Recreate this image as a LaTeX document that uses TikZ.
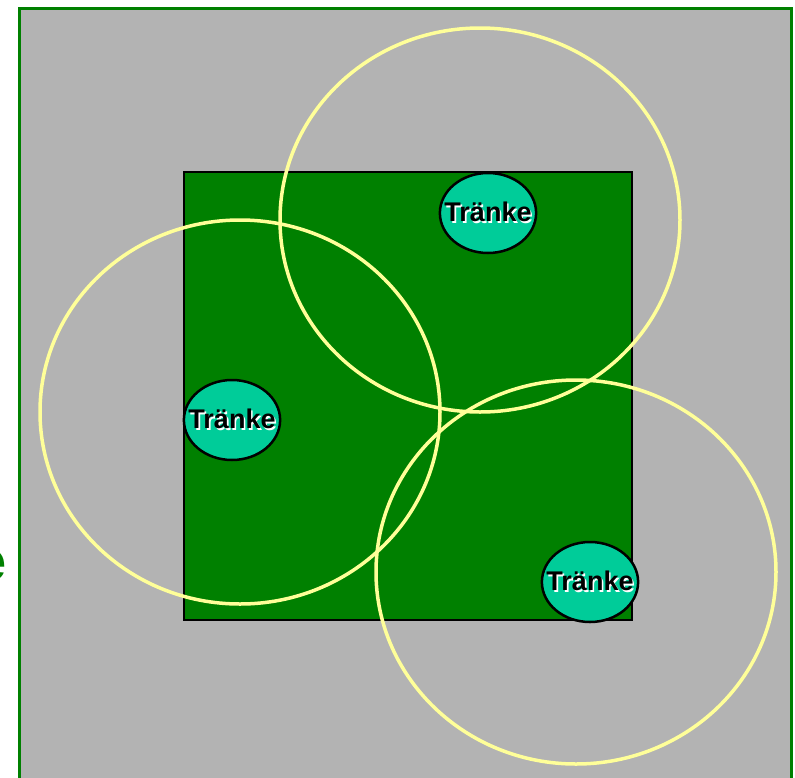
\documentclass[tikz,border=0pt]{standalone}
\usepackage{fontspec}
\setmainfont{Liberation Sans}
\usetikzlibrary{shapes.geometric}
\definecolor{pasture}{RGB}{0,128,0}
\definecolor{meadow}{RGB}{179,179,179}
\definecolor{reach}{RGB}{255,255,153}
\definecolor{water}{RGB}{0,204,153}
\newcommand\shadowed[1]{\makebox[0pt][l]{\hspace{1.6pt}\raisebox{-1.6pt}{\color{white}#1}}#1}

\begin{document}
\begin{tikzpicture}[x=1pt,y=-1pt,
                    field/.style={draw=pasture,line width=3pt,fill=meadow},
                    paddock/.style={draw=black,line width=2.5pt,fill=pasture},
                    reachring/.style={draw=reach,line width=3.5pt,x radius=200,y radius=192},
                    trough/.style={draw=black,line width=2.5pt,fill=water,ellipse,
                                   minimum width=95pt,minimum height=80pt,
                                   inner xsep=-9.5pt,inner ysep=0pt,
                                   font=\bfseries\fontsize{27}{29}\selectfont}]
  \useasboundingbox (0,0) rectangle (795,777);
  \draw[field] (19,8) rectangle (791,790);
  \node[anchor=east,inner sep=0pt,text=pasture,font=\bfseries\fontsize{56}{58}\selectfont]
    (cut) at (7,566) {e};
  \draw[paddock] (184,172) rectangle (632,620);
  % drinking range
  \draw[reachring] (480,220) ellipse [];
  \draw[reachring] (240,412) ellipse [];
  \draw[reachring] (576,572) ellipse [];
  % troughs
  \node[trough] (north) at (488,213) {\shadowed{Tränke}};
  \node[trough] (west) at (232,420) {\shadowed{Tränke}};
  \node[trough] (south) at (590,582) {\shadowed{Tränke}};
\end{tikzpicture}
\end{document}
